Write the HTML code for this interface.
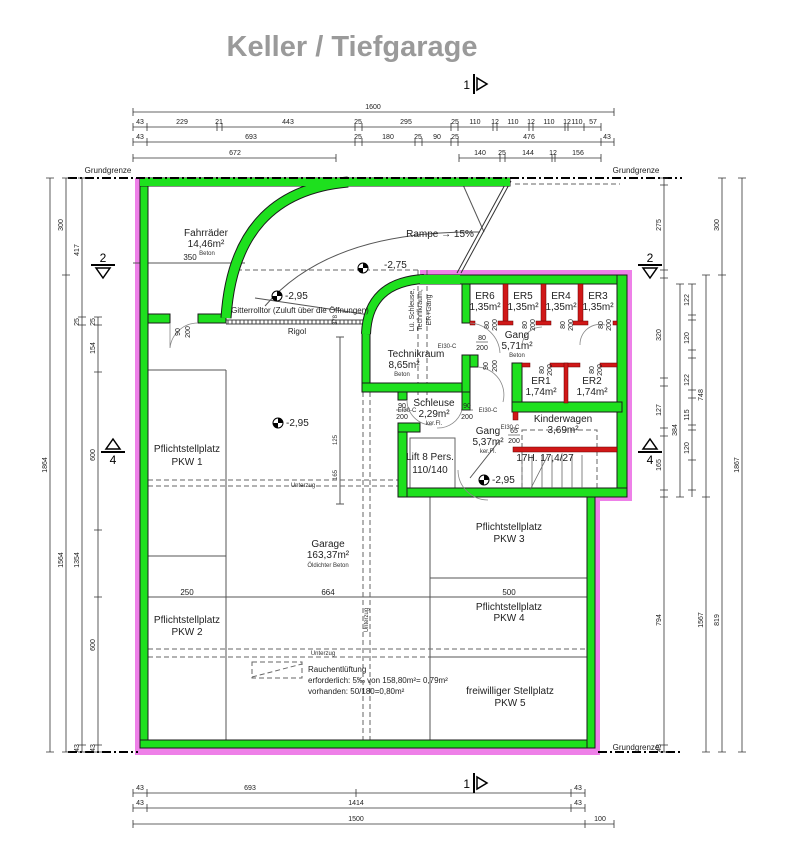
<!DOCTYPE html>
<html><head><meta charset="utf-8"><style>
html,body{margin:0;padding:0;background:#fff;}
svg{display:block;font-family:"Liberation Sans",Arial,sans-serif;}
</style></head><body>
<svg width="794" height="850" viewBox="0 0 794 850" xmlns="http://www.w3.org/2000/svg">
<rect width="794" height="850" fill="#fff"/>
<text x="352" y="56" font-size="29" font-weight="bold" fill="#9a9a9a" text-anchor="middle">Keller / Tiefgarage</text>

<!-- pink outline -->
<g fill="#ee80e8">
<rect x="135" y="178" width="6" height="577"/>
<rect x="135" y="747" width="465" height="8"/>
<rect x="594" y="495" width="6" height="260"/>
<rect x="625" y="270" width="7" height="231"/>
<rect x="420" y="270" width="212" height="6"/>
<rect x="594" y="496" width="38" height="5"/>
</g>

<!-- thin interior lines -->
<g stroke="#555" stroke-width="1" fill="none">
<line x1="148" y1="370" x2="226" y2="370"/>
<line x1="226" y1="370" x2="226" y2="740"/>
<line x1="148" y1="556" x2="226" y2="556"/>
<line x1="430" y1="497" x2="430" y2="740"/>
<line x1="430" y1="578" x2="587" y2="578"/>
<line x1="430" y1="657" x2="587" y2="657"/>
<line x1="148" y1="597" x2="587" y2="597"/>
<line x1="133" y1="263" x2="245" y2="263"/>
<line x1="340" y1="337" x2="340" y2="504"/>
<line x1="336" y1="504" x2="344" y2="504"/>
<line x1="336" y1="337" x2="344" y2="337"/>
<path d="M265,306 Q330,230 480,232"/>
<line x1="460" y1="178" x2="484" y2="232"/>
<line x1="507" y1="181" x2="457" y2="273" stroke="#333" stroke-width="1"/>
<line x1="511" y1="181" x2="461" y2="273" stroke="#333" stroke-width="1"/>
<line x1="255" y1="298" x2="370" y2="315"/>
<rect x="410" y="438" width="45" height="55" stroke="#666"/>
<line x1="470" y1="478" x2="500" y2="440"/>
</g>
<!-- gitterrolltor -->
<g stroke="#444" stroke-width="1">
<line x1="226" y1="320" x2="372" y2="320"/><line x1="226" y1="324" x2="372" y2="324"/>
<path d="M228,320v4M232,320v4M236,320v4M240,320v4M244,320v4M248,320v4M252,320v4M256,320v4M260,320v4M264,320v4M268,320v4M272,320v4M276,320v4M280,320v4M284,320v4M288,320v4M292,320v4M296,320v4M300,320v4M304,320v4M308,320v4M312,320v4M316,320v4M320,320v4M324,320v4M328,320v4M332,320v4M336,320v4M340,320v4M344,320v4M348,320v4M352,320v4M356,320v4M360,320v4M364,320v4M368,320v4"/>
</g>

<!-- dashed lines -->
<g stroke="#666" stroke-width="1" fill="none" stroke-dasharray="5,3">
<line x1="148" y1="480" x2="398" y2="480"/>
<line x1="148" y1="486" x2="398" y2="486"/>
<line x1="148" y1="649" x2="587" y2="649"/>
<line x1="148" y1="657" x2="430" y2="657"/>
<line x1="363" y1="392" x2="363" y2="740"/>
<line x1="370" y1="392" x2="370" y2="740"/>
<line x1="237" y1="270" x2="420" y2="270"/>
<line x1="418" y1="270" x2="418" y2="400"/>
<line x1="427" y1="270" x2="427" y2="400"/>
<line x1="515" y1="184" x2="620" y2="184"/>
<rect x="252" y="662" width="50" height="16"/>
<line x1="252" y1="677" x2="302" y2="664"/>
<rect x="522" y="430" width="75" height="58"/>
</g>

<!-- green walls -->
<g fill="#1ee01e" stroke="#1a1a1a" stroke-width="1">
<rect x="140" y="178" width="8" height="570"/>
<rect x="140" y="178" width="370" height="8"/>
<rect x="140" y="740" width="455" height="8"/>
<rect x="587" y="495" width="8" height="253"/>
<rect x="420" y="275" width="207" height="9"/>
<rect x="617" y="275" width="10" height="222"/>
<rect x="398" y="488" width="229" height="9"/>
<rect x="398" y="423" width="9" height="74"/>
<rect x="398" y="423" width="22" height="9"/>
<rect x="362" y="330" width="8" height="62"/>
<rect x="362" y="383" width="108" height="9"/>
<rect x="398" y="392" width="9" height="8"/>
<rect x="462" y="392" width="8" height="18"/>
<rect x="462" y="284" width="8" height="39"/>
<rect x="462" y="355" width="8" height="37"/>
<rect x="470" y="355" width="8" height="12"/>
<rect x="512" y="363" width="10" height="49"/>
<rect x="512" y="402" width="110" height="10"/>
<rect x="148" y="314" width="22" height="9"/>
<rect x="198" y="314" width="28" height="9"/>
</g>
<g fill="none">
<path d="M226,318 Q234,192 348,182" stroke="#1a1a1a" stroke-width="11"/>
<path d="M226,318 Q234,192 348,182" stroke="#1ee01e" stroke-width="9"/>
<path d="M366,334 Q368,282 424,279" stroke="#1a1a1a" stroke-width="10"/>
<path d="M366,334 Q368,282 424,279" stroke="#1ee01e" stroke-width="8"/>
</g>
<rect x="140" y="178" width="370" height="8" fill="#1ee01e"/>
<rect x="420" y="275" width="40" height="9" fill="#1ee01e"/>

<!-- red walls -->
<g fill="#d01818" stroke="#600" stroke-width="0.5">
<rect x="503" y="284" width="5" height="40"/><rect x="498" y="321" width="15" height="4"/>
<rect x="541" y="284" width="5" height="40"/><rect x="536" y="321" width="15" height="4"/>
<rect x="578" y="284" width="5" height="40"/><rect x="573" y="321" width="15" height="4"/>
<rect x="470" y="321" width="5" height="4"/><rect x="613" y="321" width="4" height="4"/>
<rect x="522" y="363" width="8" height="4"/>
<rect x="550" y="363" width="30" height="4"/>
<rect x="600" y="363" width="17" height="4"/>
<rect x="564" y="363" width="4" height="40"/>
<rect x="513" y="412" width="5" height="8"/>
<rect x="513" y="447" width="104" height="5"/>
</g>

<!-- stairs -->
<g stroke="#666" stroke-width="0.8">
<path d="M522,455v33M532,455v33M542,455v33M552,455v33M562,455v33M572,455v33M582,455v33"/>
<line x1="530" y1="490" x2="548" y2="455"/>
</g>

<!-- doors -->
<g stroke="#888" stroke-width="0.8" fill="none">
<path d="M170,323 v25 a28,28 0 0 1 28,-25"/>
<path d="M470,323 a32,32 0 0 1 30,30"/>
<path d="M522,345 a20,20 0 0 1 20,-18"/>
<path d="M580,345 a20,20 0 0 1 25,-20"/>
<path d="M478,367 a28,28 0 0 1 25,35"/>
<path d="M407,400 a25,25 0 0 0 25,25"/>
<path d="M462,410 a25,25 0 0 1 -25,18"/>
<path d="M458,470 a30,30 0 0 0 30,30"/>
</g>

<!-- level markers -->
<g>
<g transform="translate(277,296)"><circle r="5" fill="#fff" stroke="#000"/><path d="M0,0 L0,-5 A5,5 0 0 1 5,0Z M0,0 L0,5 A5,5 0 0 1 -5,0Z" fill="#000"/></g>
<g transform="translate(363,268)"><circle r="5" fill="#fff" stroke="#000"/><path d="M0,0 L0,-5 A5,5 0 0 1 5,0Z M0,0 L0,5 A5,5 0 0 1 -5,0Z" fill="#000"/></g>
<g transform="translate(278,423)"><circle r="5" fill="#fff" stroke="#000"/><path d="M0,0 L0,-5 A5,5 0 0 1 5,0Z M0,0 L0,5 A5,5 0 0 1 -5,0Z" fill="#000"/></g>
<g transform="translate(484,480)"><circle r="5" fill="#fff" stroke="#000"/><path d="M0,0 L0,-5 A5,5 0 0 1 5,0Z M0,0 L0,5 A5,5 0 0 1 -5,0Z" fill="#000"/></g>
</g>

<!-- Grundgrenze -->
<g stroke="#000" stroke-width="2" stroke-dasharray="9,3,2,3" fill="none">
<line x1="68" y1="178" x2="682" y2="178"/>
<line x1="68" y1="752" x2="138" y2="752"/>
<line x1="598" y1="752" x2="682" y2="752"/>
</g>

<!-- room text -->
<g fill="#222" font-size="10" text-anchor="middle">
<text x="206" y="236">Fahrräder</text><text x="206" y="247">14,46m²</text>
<text x="440" y="237">Rampe → 15%</text>
<text x="384" y="268" text-anchor="start">-2,75</text>
<text x="285" y="299" text-anchor="start">-2,95</text>
<text x="286" y="426" text-anchor="start">-2,95</text>
<text x="492" y="483" text-anchor="start">-2,95</text>
<text x="416" y="357">Technikraum</text><text x="404" y="368">8,65m²</text>
<text x="485" y="299">ER6</text><text x="485" y="310">1,35m²</text>
<text x="523" y="299">ER5</text><text x="523" y="310">1,35m²</text>
<text x="561" y="299">ER4</text><text x="561" y="310">1,35m²</text>
<text x="598" y="299">ER3</text><text x="598" y="310">1,35m²</text>
<text x="517" y="338">Gang</text><text x="517" y="349">5,71m²</text>
<text x="541" y="384">ER1</text><text x="541" y="395">1,74m²</text>
<text x="592" y="384">ER2</text><text x="592" y="395">1,74m²</text>
<text x="434" y="406">Schleuse</text><text x="434" y="417">2,29m²</text>
<text x="563" y="422">Kinderwagen</text><text x="563" y="433">3,69m²</text>
<text x="488" y="434">Gang</text><text x="488" y="445">5,37m²</text>
<text x="430" y="460">Lift 8 Pers.</text><text x="430" y="473">110/140</text>
<text x="545" y="461">17H. 17,4/27</text>
<text x="187" y="452">Pflichtstellplatz</text><text x="187" y="465">PKW 1</text>
<text x="328" y="547">Garage</text><text x="328" y="558">163,37m²</text>
<text x="509" y="530">Pflichtstellplatz</text><text x="509" y="542">PKW 3</text>
<text x="187" y="623">Pflichtstellplatz</text><text x="187" y="635">PKW 2</text>
<text x="509" y="610">Pflichtstellplatz</text><text x="509" y="621">PKW 4</text>
<text x="510" y="694">freiwilliger Stellplatz</text><text x="510" y="706">PKW 5</text>
</g>
<g fill="#222" font-size="8" text-anchor="middle">
<text x="300" y="313">Gitterrolltor (Zuluft über die Öffnungen)</text>
<text x="297" y="334">Rigol</text>
<text x="190" y="260">350</text>
<text x="187" y="595">250</text><text x="328" y="595">664</text><text x="509" y="595">500</text>
<text x="308" y="672" text-anchor="start">Rauchentlüftung</text>
<text x="308" y="683" text-anchor="start">erforderlich: 5‰ von 158,80m²= 0,79m²</text>
<text x="308" y="694" text-anchor="start">vorhanden: 50/180=0,80m²</text>
<text x="108" y="173">Grundgrenze</text>
<text x="636" y="173">Grundgrenze</text>
<text x="636" y="750">Grundgrenze</text>
</g>
<g fill="#333" font-size="6" text-anchor="middle">
<text x="207" y="255">Beton</text><text x="402" y="376">Beton</text><text x="517" y="357">Beton</text>
<text x="328" y="567">Öldichter Beton</text>
<text x="434" y="425">ker.Fl.</text><text x="488" y="453">ker.Fl.</text>
<text x="303" y="487">Unterzug</text><text x="323" y="655">Unterzug</text>
<text transform="translate(368,620) rotate(-90)">Unterzug</text>
<text transform="translate(414,310) rotate(-90)" font-size="7">Lü. Schleuse,</text>
<text transform="translate(422,310) rotate(-90)" font-size="7">Technikraum,</text>
<text transform="translate(431,310) rotate(-90)" font-size="7">ER+Gang</text>
<text x="407" y="412">EI30-C</text><text x="488" y="412">EI30-C</text>
<text x="447" y="348">EI30-C</text><text x="510" y="429">EI30-C</text>
<text transform="translate(337,320) rotate(-90)">378</text>
<text transform="translate(337,440) rotate(-90)">125</text>
<text transform="translate(337,475) rotate(-90)">165</text>
</g>
<!-- door fractions -->
<g fill="#222" font-size="7" text-anchor="middle">
<text x="482" y="340">80</text><line x1="476" y1="342" x2="488" y2="342" stroke="#333" stroke-width="0.6"/><text x="482" y="350">200</text>
<text x="402" y="408">90</text><line x1="396" y1="410" x2="408" y2="410" stroke="#333" stroke-width="0.6"/><text x="402" y="419">200</text>
<text x="467" y="408">90</text><line x1="461" y1="410" x2="473" y2="410" stroke="#333" stroke-width="0.6"/><text x="467" y="419">200</text>
<text x="514" y="433">65</text><line x1="508" y1="435" x2="520" y2="435" stroke="#333" stroke-width="0.6"/><text x="514" y="443">200</text>
<text transform="translate(180,332) rotate(-90)">90</text><text transform="translate(190,332) rotate(-90)">200</text>
<text transform="translate(489,325) rotate(-90)">80</text><text transform="translate(497,325) rotate(-90)">200</text>
<text transform="translate(527,325) rotate(-90)">80</text><text transform="translate(535,325) rotate(-90)">200</text>
<text transform="translate(565,325) rotate(-90)">80</text><text transform="translate(573,325) rotate(-90)">200</text>
<text transform="translate(603,325) rotate(-90)">80</text><text transform="translate(611,325) rotate(-90)">200</text>
<text transform="translate(544,370) rotate(-90)">80</text><text transform="translate(552,370) rotate(-90)">200</text>
<text transform="translate(594,370) rotate(-90)">80</text><text transform="translate(602,370) rotate(-90)">200</text>
<text transform="translate(488,366) rotate(-90)">90</text><text transform="translate(497,366) rotate(-90)">200</text>
</g>

<!-- dimension lines -->
<g stroke="#333" stroke-width="0.8" fill="none">
<line x1="133" y1="112" x2="614" y2="112"/>
<line x1="133" y1="127" x2="601" y2="127"/>
<line x1="133" y1="142" x2="614" y2="142"/>
<line x1="133" y1="158" x2="336" y2="158"/>
<line x1="459" y1="158" x2="601" y2="158"/>
<path d="M133,108v8M614,108v8
M133,123v8M147,123v8M217,123v8M222,123v8M355,123v8M362,123v8M451,123v8M458,123v8M493,123v8M497,123v8M529,123v8M533,123v8M565,123v8M568,123v8M584,123v8M601,123v8
M133,138v8M147,138v8M355,138v8M362,138v8M415,138v8M422,138v8M451,138v8M458,138v8M601,138v8M614,138v8
M133,154v8M336,154v8M459,154v8M500,154v8M505,154v8M552,154v8M555,154v8M601,154v8"/>
<line x1="133" y1="793" x2="585" y2="793"/>
<line x1="133" y1="808" x2="585" y2="808"/>
<line x1="133" y1="824" x2="614" y2="824"/>
<path d="M133,789v8M147,789v8M356,789v8M571,789v8M585,789v8
M133,804v8M147,804v8M571,804v8M585,804v8
M133,820v8M585,820v8M614,820v8"/>
<line x1="50" y1="178" x2="50" y2="752"/>
<line x1="66" y1="178" x2="66" y2="752"/>
<line x1="82" y1="178" x2="82" y2="752"/>
<line x1="98" y1="317" x2="98" y2="752"/>
<path d="M46,178h8M46,752h8M62,178h8M62,275h8M62,752h8M78,178h8M78,317h8M78,325h8M78,745h8M78,752h8
M94,317h8M94,325h8M94,372h8M94,530h8M94,597h8M94,745h8M94,752h8"/>
<line x1="664" y1="178" x2="664" y2="752"/>
<line x1="680" y1="284" x2="680" y2="497"/>
<line x1="692" y1="284" x2="692" y2="497"/>
<line x1="706" y1="275" x2="706" y2="752"/>
<line x1="722" y1="178" x2="722" y2="752"/>
<line x1="742" y1="178" x2="742" y2="752"/>
<path d="M660,178h8M660,185h8M660,270h8M660,278h8M660,378h8M660,386h8M660,428h8M660,436h8M660,490h8M660,497h8M660,745h8M660,752h8
M676,284h8M676,497h8M688,284h8M688,315h8M688,320h8M688,350h8M688,358h8M688,390h8M688,398h8M688,425h8M688,430h8M688,460h8M688,490h8
M702,275h8M702,497h8M702,752h8M718,178h8M718,275h8M718,752h8M738,178h8M738,752h8"/>
</g>
<g fill="#222" font-size="7" text-anchor="middle">
<text x="373" y="109">1600</text>
<text x="140" y="124">43</text><text x="182" y="124">229</text><text x="219" y="124">21</text><text x="288" y="124">443</text><text x="358" y="124">25</text><text x="406" y="124">295</text><text x="455" y="124">25</text><text x="475" y="124">110</text><text x="495" y="124">12</text><text x="513" y="124">110</text><text x="531" y="124">12</text><text x="549" y="124">110</text><text x="567" y="124">12</text><text x="577" y="124">110</text><text x="593" y="124">57</text>
<text x="140" y="139">43</text><text x="251" y="139">693</text><text x="358" y="139">25</text><text x="388" y="139">180</text><text x="418" y="139">25</text><text x="437" y="139">90</text><text x="455" y="139">25</text><text x="529" y="139">476</text><text x="607" y="139">43</text>
<text x="235" y="155">672</text><text x="480" y="155">140</text><text x="502" y="155">25</text><text x="528" y="155">144</text><text x="553" y="155">12</text><text x="578" y="155">156</text>
<text x="140" y="790">43</text><text x="250" y="790">693</text><text x="578" y="790">43</text>
<text x="140" y="805">43</text><text x="356" y="805">1414</text><text x="578" y="805">43</text>
<text x="356" y="821">1500</text><text x="600" y="821">100</text>
<text transform="translate(47,465) rotate(-90)">1864</text>
<text transform="translate(63,225) rotate(-90)">300</text>
<text transform="translate(63,560) rotate(-90)">1564</text>
<text transform="translate(79,250) rotate(-90)">417</text>
<text transform="translate(79,322) rotate(-90)">25</text>
<text transform="translate(79,560) rotate(-90)">1354</text>
<text transform="translate(79,748) rotate(-90)">43</text>
<text transform="translate(95,322) rotate(-90)">25</text>
<text transform="translate(95,348) rotate(-90)">154</text>
<text transform="translate(95,455) rotate(-90)">600</text>
<text transform="translate(95,645) rotate(-90)">600</text>
<text transform="translate(95,748) rotate(-90)">43</text>
<text transform="translate(661,225) rotate(-90)">275</text>
<text transform="translate(661,335) rotate(-90)">320</text>
<text transform="translate(661,410) rotate(-90)">127</text>
<text transform="translate(661,465) rotate(-90)">165</text>
<text transform="translate(661,620) rotate(-90)">794</text>
<text transform="translate(661,748) rotate(-90)">43</text>
<text transform="translate(677,430) rotate(-90)">384</text>
<text transform="translate(689,300) rotate(-90)">122</text>
<text transform="translate(689,338) rotate(-90)">120</text>
<text transform="translate(689,380) rotate(-90)">122</text>
<text transform="translate(689,415) rotate(-90)">115</text>
<text transform="translate(689,448) rotate(-90)">120</text>
<text transform="translate(703,395) rotate(-90)">748</text>
<text transform="translate(703,620) rotate(-90)">1567</text>
<text transform="translate(719,225) rotate(-90)">300</text>
<text transform="translate(719,620) rotate(-90)">819</text>
<text transform="translate(739,465) rotate(-90)">1867</text>
</g>

<!-- section markers -->
<g fill="#000" stroke="#000">
<g transform="translate(103,265)"><line x1="-12" y1="0" x2="12" y2="0" stroke-width="2"/><path d="M-7,3 L7,3 L0,13Z" fill="#fff" stroke-width="1.5"/><text x="0" y="-3" font-size="12" stroke="none" text-anchor="middle">2</text></g>
<g transform="translate(650,265)"><line x1="-12" y1="0" x2="12" y2="0" stroke-width="2"/><path d="M-7,3 L7,3 L0,13Z" fill="#fff" stroke-width="1.5"/><text x="0" y="-3" font-size="12" stroke="none" text-anchor="middle">2</text></g>
<g transform="translate(113,452)"><line x1="-12" y1="0" x2="12" y2="0" stroke-width="2"/><path d="M-7,-3 L7,-3 L0,-13Z" fill="#fff" stroke-width="1.5"/><text x="0" y="12" font-size="12" stroke="none" text-anchor="middle">4</text></g>
<g transform="translate(650,452)"><line x1="-12" y1="0" x2="12" y2="0" stroke-width="2"/><path d="M-7,-3 L7,-3 L0,-13Z" fill="#fff" stroke-width="1.5"/><text x="0" y="12" font-size="12" stroke="none" text-anchor="middle">4</text></g>
<g transform="translate(474,84)"><line x1="0" y1="-10" x2="0" y2="10" stroke-width="2"/><path d="M3,-6 L3,6 L13,0Z" fill="#fff" stroke-width="1.5"/><text x="-4" y="5" font-size="12" stroke="none" text-anchor="end">1</text></g>
<g transform="translate(474,783)"><line x1="0" y1="-10" x2="0" y2="10" stroke-width="2"/><path d="M3,-6 L3,6 L13,0Z" fill="#fff" stroke-width="1.5"/><text x="-4" y="5" font-size="12" stroke="none" text-anchor="end">1</text></g>
</g>
</svg>
</body></html>
